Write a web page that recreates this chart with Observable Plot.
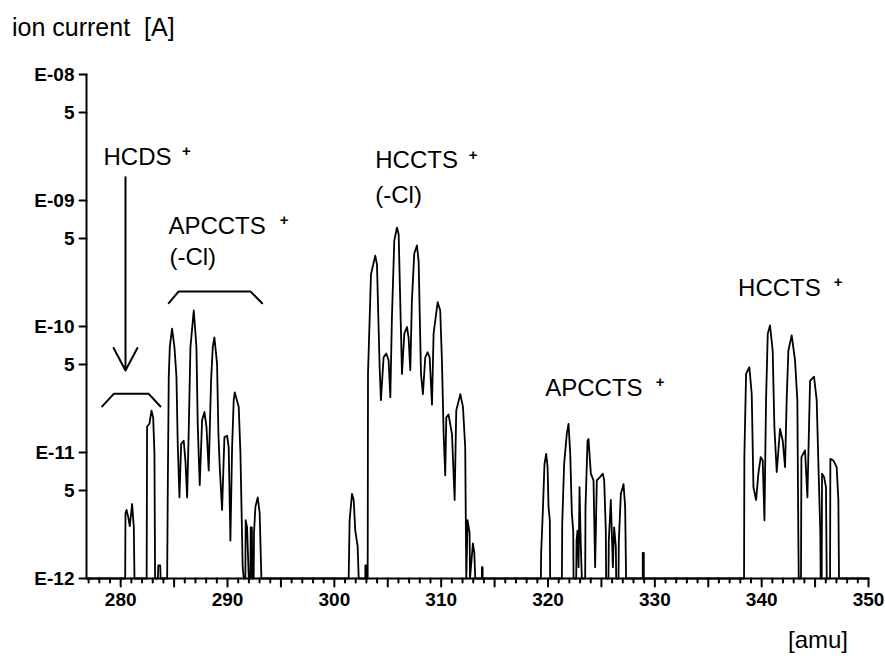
<!DOCTYPE html>
<html>
<head>
<meta charset="utf-8">
<script src="https://cdn.jsdelivr.net/npm/d3@7"></script>
<script src="https://cdn.jsdelivr.net/npm/@observablehq/plot@0.6"></script>
<style>
  body { margin: 0; background: #fff; }
  #wrap { width: 885px; height: 664px; position: relative; font-family: "Liberation Sans", Arial, sans-serif; color: #000; }
  #title { height: 50px; box-sizing: border-box; padding: 15px 0 0 12px; font-size: 25px; line-height: 1; white-space: pre; }
  #chart { height: 570px; }
  #caption { height: 44px; box-sizing: border-box; padding: 8px 37px 0 0; text-align: right; font-size: 24px; line-height: 1; }
</style>
</head>
<body>
<div id="wrap">
  <div id="title">ion current  [A]</div>
  <div id="chart"></div>
  <div id="caption">[amu]</div>
</div>
<script>
// ---- axes ----
const massDomain = [276.8, 350];
const currentDomain = [1e-12, 1e-8];
const yTicks = [1e-12, 5e-12, 1e-11, 5e-11, 1e-10, 5e-10, 1e-9, 5e-9, 1e-8];
const yTickLabels = ["E-12", "5", "E-11", "5", "E-10", "5", "E-09", "5", "E-08"];
const xLabelTicks = [280, 290, 300, 310, 320, 330, 340, 350];
const xMidTicks = [280, 285, 290, 295, 300, 305, 310, 315, 320, 325, 330, 335, 340, 345, 350];
const xMinorTicks = [277, 278, 279, 281, 282, 283, 284, 286, 287, 288, 289, 291, 292, 293, 294, 296, 297, 298, 299, 301, 302, 303, 304, 306, 307, 308, 309, 311, 312, 313, 314, 316, 317, 318, 319, 321, 322, 323, 324, 326, 327, 328, 329, 331, 332, 333, 334, 336, 337, 338, 339, 341, 342, 343, 344, 346, 347, 348, 349];

// ---- spectrum trace (mass [amu], ion current [A]) ----
const hcdsMass = [280.42, 280.45, 280.55, 280.7, 280.85, 281.07, 281.23, 281.29, 282.43, 282.47, 282.7, 282.88, 283.04, 283.16, 283.22, 283.48, 283.52, 283.7, 283.74];
const hcdsCurrent = [1e-12, 3.3e-12, 3.5e-12, 3.1e-12, 2.6e-12, 3.9e-12, 2.55e-12, 1e-12, 1e-12, 1.6e-11, 1.7e-11, 2.15e-11, 1.9e-11, 9.8e-12, 1e-12, 1e-12, 1.27e-12, 1.27e-12, 1e-12];

const apcctsClMass = [284.35, 284.41, 284.50, 284.60, 284.81, 285.03, 285.22, 285.34, 285.50, 285.66, 285.90, 286.06, 286.22, 286.37, 286.53, 286.84, 287.09, 287.21, 287.34, 287.40, 287.62, 287.84, 288.03, 288.24, 288.46, 288.62, 288.77, 289.02, 289.15, 289.27, 289.49, 289.71, 289.96, 290.11, 290.27, 290.43, 290.58, 290.68, 291.05, 291.21, 291.42, 291.52, 291.67, 291.70, 291.83, 291.99, 292.14, 292.17, 292.28, 292.32, 292.45, 292.48, 292.61, 292.83, 293.01, 293.17];
const apcctsClCurrent = [1e-12, 5.3e-12, 4.0e-11, 6.9e-11, 9.6e-11, 6.9e-11, 4.0e-11, 1.17e-11, 4.4e-12, 1.17e-11, 1.24e-11, 8.6e-12, 4.4e-12, 1.5e-11, 6.9e-11, 1.34e-10, 6.9e-11, 1.7e-11, 7.7e-12, 5.5e-12, 1.8e-11, 2.1e-11, 1.6e-11, 7.2e-12, 3.7e-11, 6.9e-11, 8.2e-11, 5.1e-11, 1.4e-11, 7.7e-12, 3.5e-12, 1.32e-11, 1.36e-11, 1.1e-11, 2.0e-12, 1.1e-11, 2.6e-11, 3.0e-11, 2.3e-11, 9.8e-12, 1.23e-12, 1e-12, 1e-12, 2.9e-12, 2.55e-12, 1e-12, 1e-12, 2.55e-12, 2.55e-12, 1e-12, 1e-12, 2.3e-12, 3.7e-12, 4.4e-12, 3.3e-12, 1e-12];

const m302Mass = [301.34, 301.43, 301.65, 301.81, 301.96, 302.18, 302.28, 302.90, 302.90, 302.99, 302.99];
const m302Current = [1e-12, 2.9e-12, 4.7e-12, 4.2e-12, 2.4e-12, 1.8e-12, 1e-12, 1e-12, 1.27e-12, 1.27e-12, 1e-12];

const hcctsClMass = [303.12, 303.15, 303.43, 303.83, 303.99, 304.24, 304.36, 304.61, 304.86, 305.08, 305.24, 305.39, 305.61, 305.86, 306.02, 306.24, 306.33, 306.55, 306.80, 306.95, 307.11, 307.26, 307.48, 307.73, 307.89, 308.11, 308.29, 308.51, 308.73, 308.92, 309.14, 309.29, 309.67, 309.91, 310.07, 310.23, 310.38, 310.48, 310.69, 311.01, 311.26, 311.41, 311.79, 312.04, 312.25, 312.35, 312.47, 312.66, 312.70, 312.97, 313.10, 313.19, 313.81, 313.81, 313.88, 313.88];
const hcctsClCurrent = [1e-12, 4.2e-11, 2.6e-10, 3.65e-10, 3.1e-10, 4.75e-11, 2.6e-11, 5.7e-11, 6.1e-11, 5.4e-11, 2.75e-11, 1.19e-10, 4.8e-10, 6.1e-10, 5.4e-10, 8.8e-11, 4.2e-11, 8.8e-11, 9.9e-11, 8.2e-11, 4.5e-11, 1.6e-10, 3.8e-10, 4.4e-10, 3.3e-10, 4.2e-11, 2.9e-11, 5.7e-11, 6.25e-11, 5.7e-11, 2.4e-11, 8.8e-11, 1.56e-10, 1.34e-10, 5.4e-11, 1.4e-11, 6.6e-12, 1.9e-11, 2.0e-11, 1.4e-11, 4.2e-12, 2.15e-11, 2.9e-11, 2.3e-11, 1.1e-11, 1e-12, 2.9e-12, 2.3e-12, 1e-12, 1.9e-12, 1.6e-12, 1e-12, 1e-12, 1.23e-12, 1.23e-12, 1e-12];

const apcctsMass = [319.33, 319.36, 319.52, 319.67, 319.83, 319.96, 320.05, 320.17, 320.20, 321.30, 321.33, 321.51, 321.76, 321.92, 322.08, 322.23, 322.36, 322.39, 322.64, 322.67, 322.76, 322.86, 322.95, 323.07, 323.17, 323.48, 323.51, 323.70, 323.79, 324.01, 324.26, 324.41, 324.57, 324.88, 325.13, 325.26, 325.41, 325.44, 325.66, 325.69, 325.88, 326.07, 326.19, 326.35, 326.38, 326.60, 326.63, 326.82, 327.07, 327.22, 327.31, 328.87, 328.87, 328.97, 328.97];
const apcctsCurrent = [1e-12, 1.6e-12, 3.5e-12, 8.1e-12, 9.75e-12, 7.7e-12, 3.7e-12, 2.9e-12, 1e-12, 1e-12, 2.7e-12, 8.1e-12, 1.41e-11, 1.69e-11, 9.75e-12, 3.3e-12, 2.4e-12, 1e-12, 1e-12, 2.0e-12, 2.4e-12, 1.23e-12, 5.3e-12, 1.8e-12, 1e-12, 1e-12, 3.7e-12, 1.24e-11, 1.28e-11, 6.8e-12, 6.0e-12, 1.23e-12, 6.0e-12, 6.4e-12, 6.8e-12, 6.0e-12, 2.4e-12, 1e-12, 1e-12, 2.0e-12, 4.2e-12, 1.23e-12, 2.55e-12, 1.8e-12, 1e-12, 1e-12, 2.0e-12, 4.7e-12, 5.6e-12, 3.7e-12, 1e-12, 1e-12, 1.6e-12, 1.6e-12, 1e-12];

const hcctsMass = [338.35, 338.38, 338.54, 338.85, 339.07, 339.23, 339.48, 339.69, 339.91, 340.10, 340.26, 340.41, 340.57, 340.78, 341.03, 341.19, 341.41, 341.72, 341.97, 342.19, 342.34, 342.50, 342.81, 343.12, 343.34, 343.43, 343.47, 343.68, 343.72, 344.06, 344.28, 344.53, 344.90, 345.15, 345.37, 345.49, 345.52, 345.62, 345.65, 345.84, 346.02, 346.09, 346.40, 346.43, 346.71, 347.02, 347.18, 347.24];
const hcctsCurrent = [1e-12, 9.2e-12, 4.2e-11, 4.75e-11, 2.9e-11, 5.3e-12, 4.2e-12, 6.8e-12, 9.2e-12, 8.65e-12, 2.9e-12, 2.6e-11, 8.75e-11, 1.02e-10, 6.45e-11, 1.6e-11, 7.0e-12, 1.54e-11, 1.24e-11, 7.65e-12, 2.6e-11, 6.45e-11, 8.5e-11, 5.4e-11, 2.6e-11, 2.3e-12, 1e-12, 1e-12, 9.2e-12, 1.04e-11, 4.4e-12, 3.7e-11, 4.0e-11, 2.6e-11, 5.3e-12, 2.3e-12, 1e-12, 1e-12, 6.8e-12, 6.4e-12, 5.3e-12, 1e-12, 1e-12, 8.9e-12, 8.65e-12, 7.65e-12, 4.2e-12, 1e-12];

// ---- annotations ----
const annoLabel = ["HCDS", "APCCTS", "(-Cl)", "HCCTS", "(-Cl)", "APCCTS", "HCCTS"];
const annoMass = [278.39, 284.47, 284.56, 303.83, 303.83, 319.74, 337.79];
const annoCurrent = [1.93e-9, 5.47e-10, 3.05e-10, 1.80e-9, 9.64e-10, 2.83e-11, 1.76e-10];
const plusMass = [286.15, 295.3, 313.0, 330.5, 347.15];
const plusCurrent = [2.45e-9, 6.93e-10, 2.27e-9, 3.6e-11, 2.23e-10];
const arrowMass = 280.45;
const arrowFrom = 1.53e-9;
const arrowTo = 4.48e-11;
const hcdsBracketMass = [278.27, 279.35, 282.63, 283.72];
const hcdsBracketCurrent = [2.32e-11, 2.92e-11, 2.92e-11, 2.32e-11];
const apcctsBracketMass = [284.5, 285.43, 292.14, 293.24];
const apcctsBracketCurrent = [1.53e-10, 1.9e-10, 1.9e-10, 1.53e-10];

// ---- layout (pixels) ----
const W = 885, H = 570, pad = 9;
const axisLeft = 86, axisRight = 868, axisTop = 24, axisBottom = 528;
const boxW = axisRight - axisLeft, boxH = axisBottom - axisTop;
const minorLen = 4, majorLen = 8, yTickLen = 7;
const decades = Math.log10(currentDomain[1] / currentDomain[0]);
const massPerPx = (massDomain[1] - massDomain[0]) / boxW;
const belowAxis = (px) => currentDomain[0] * Math.pow(10, -px * decades / boxH);
const leftOfAxis = (px) => massDomain[0] - px * massPerPx;

// ---- build tables ----
const groups = [
  [hcdsMass, hcdsCurrent], [apcctsClMass, apcctsClCurrent], [m302Mass, m302Current],
  [hcctsClMass, hcctsClCurrent], [apcctsMass, apcctsCurrent], [hcctsMass, hcctsCurrent]
];
const trace = [{mass: massDomain[0], current: currentDomain[0]}];
for (const [ms, cs] of groups) ms.forEach((m, i) => trace.push({mass: m, current: cs[i]}));
trace.push({mass: massDomain[1], current: currentDomain[0]});

const axisSegs = [
  {id: "yaxis", mass: massDomain[0], current: currentDomain[1]},
  {id: "yaxis", mass: massDomain[0], current: currentDomain[0]},
  {id: "yaxis", mass: massDomain[1], current: currentDomain[0]}
];
const tickSegs = [];
xMinorTicks.forEach(m => tickSegs.push(
  {id: "xm" + m, mass: m, current: currentDomain[0]},
  {id: "xm" + m, mass: m, current: belowAxis(minorLen)}));
xMidTicks.forEach(m => tickSegs.push(
  {id: "xM" + m, mass: m, current: currentDomain[0]},
  {id: "xM" + m, mass: m, current: belowAxis(majorLen)}));
yTicks.forEach(c => tickSegs.push(
  {id: "y" + c, mass: leftOfAxis(yTickLen), current: c},
  {id: "y" + c, mass: massDomain[0], current: c}));

const annos = annoLabel.map((t, i) => ({t, mass: annoMass[i], current: annoCurrent[i]}));
const pluses = plusMass.map((m, i) => ({mass: m, current: plusCurrent[i]}));
const brackets = [
  ...hcdsBracketMass.map((m, i) => ({g: "hcds", mass: m, current: hcdsBracketCurrent[i]})),
  ...apcctsBracketMass.map((m, i) => ({g: "apccts", mass: m, current: apcctsBracketCurrent[i]}))
];

const font = "Liberation Sans, Arial, Helvetica, sans-serif";
const chart = Plot.plot({
  width: W,
  height: H,
  marginTop: axisTop,
  marginBottom: H - axisBottom - pad,
  marginLeft: axisLeft - pad,
  marginRight: W - axisRight,
  x: {domain: [leftOfAxis(pad), massDomain[1]], axis: null},
  y: {type: "log", domain: [belowAxis(pad), currentDomain[1]], axis: null},
  marks: [
    Plot.line(trace, {x: "mass", y: "current", stroke: "black", strokeWidth: 1.8}),
    Plot.text(yTicks, {y: d => d, text: (d, i) => yTickLabels[i], frameAnchor: "left", textAnchor: "end", lineAnchor: "middle", dx: pad - 12, fontSize: 19, fontWeight: "bold", fontFamily: font, fill: "black"}),
    Plot.text(xLabelTicks, {x: d => d, text: d => String(d), frameAnchor: "bottom", textAnchor: "middle", lineAnchor: "top", dy: 14 - pad, fontSize: 19, fontWeight: "bold", fontFamily: font, fill: "black"}),
    // annotations
    Plot.line(brackets, {x: "mass", y: "current", z: "g", stroke: "black", strokeWidth: 2}),
    Plot.arrow([arrowMass], {x1: d => d, x2: d => d, y1: () => arrowFrom, y2: () => arrowTo, stroke: "black", strokeWidth: 2, headLength: 19, headAngle: 56}),
    Plot.text(annos, {x: "mass", y: "current", text: "t", textAnchor: "start", lineAnchor: "bottom", fontSize: 24, fontFamily: font, fill: "black"}),
    Plot.text(pluses, {x: "mass", y: "current", text: () => "+", textAnchor: "middle", lineAnchor: "middle", fontSize: 15, fontWeight: "bold", fontFamily: font, fill: "black"}),
    // axis lines and ticks on top
    Plot.line(axisSegs, {x: "mass", y: "current", z: "id", stroke: "black", strokeWidth: 2}),
    Plot.line(tickSegs, {x: "mass", y: "current", z: "id", stroke: "black", strokeWidth: 2})
  ]
});
document.getElementById("chart").appendChild(chart);
</script>
</body>
</html>
